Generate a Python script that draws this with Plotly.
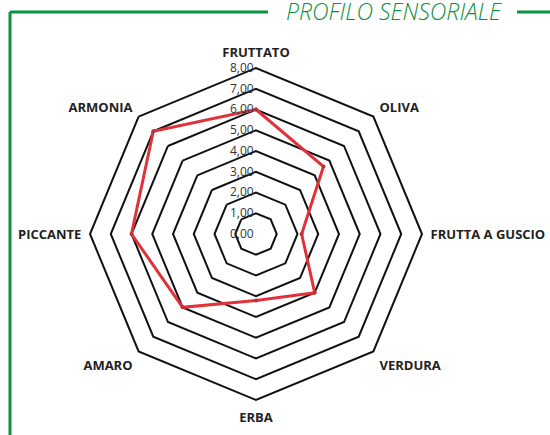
import plotly.graph_objects as go

# data ---------------------------------------------------------------
categories = ["FRUTTATO", "OLIVA", "FRUTTA A GUSCIO", "VERDURA",
              "ERBA", "AMARO", "PICCANTE", "ARMONIA"]
values = [6.0, 4.6, 2.2, 4.0, 3.2, 5.0, 6.0, 7.0]
tick_vals = [0, 1, 2, 3, 4, 5, 6, 7, 8]
tick_text = ["0,00", "1,00", "2,00", "3,00", "4,00", "5,00", "6,00", "7,00", "8,00"]

W, H = 550, 435
GREEN = "#0a9142"


def px(x, y):
    return x / W, 1 - y / H


fig = go.Figure()
fig.add_trace(go.Scatterpolar(
    r=values + values[:1], theta=categories + categories[:1],
    mode="lines+markers",
    line=dict(color="#e1323c", width=3),
    marker=dict(size=4, color="#b8323a"),
    showlegend=False,
))

cx, cy, R = 256, 234, 166
x0, y1 = px(cx - R, cy + R)
x1, y0 = px(cx + R, cy - R)
fig.update_layout(
    width=W, height=H,
    margin=dict(l=0, r=0, t=0, b=0),
    paper_bgcolor="white",
    polar=dict(
        domain=dict(x=[x0, x1], y=[y1, y0]),
        bgcolor="white",
        gridshape="linear",
        angularaxis=dict(rotation=90, direction="clockwise",
                         showgrid=False, showline=True,
                         linecolor="#111", linewidth=2,
                         ticks="outside", ticklen=5, tickcolor="rgba(0,0,0,0)",
                         tickfont=dict(family="Open Sans", size=13, color="#222",
                                       weight="bold")),
        radialaxis=dict(range=[0, 8], tickvals=tick_vals, ticktext=tick_text,
                        # invisible padding pushes the labels left of the axis
                        ticksuffix='<span style="color:rgba(0,0,0,0)">0,0</span>',
                        angle=90, tickangle=90, side="counterclockwise",
                        showline=False, ticks="",
                        gridcolor="#111", gridwidth=2,
                        tickfont=dict(family="Open Sans", size=12, color="#333")),
    ),
)

# green frame + heading ------------------------------------------------
lw = 3
for (ax, ay, bx, by) in [(10, 12, 268, 12), (517, 12, 550, 12), (10, 12, 10, 435)]:
    a = px(ax, ay)
    b = px(bx, by)
    fig.add_shape(type="line", xref="paper", yref="paper",
                  x0=a[0], y0=a[1], x1=b[0], y1=b[1],
                  line=dict(color=GREEN, width=lw))

tx, ty = px(394, 11)
fig.add_annotation(text="PROFILO SENSORIALE", xref="paper", yref="paper",
                   x=tx, y=ty, showarrow=False, xanchor="center", yanchor="middle",
                   borderpad=0,
                   font=dict(family="Open Sans", size=23, color=GREEN,
                             style="italic", weight=300))

fig.write_html("out.html", config={"displayModeBar": False},
               post_script="document.body.style.margin='0';")
